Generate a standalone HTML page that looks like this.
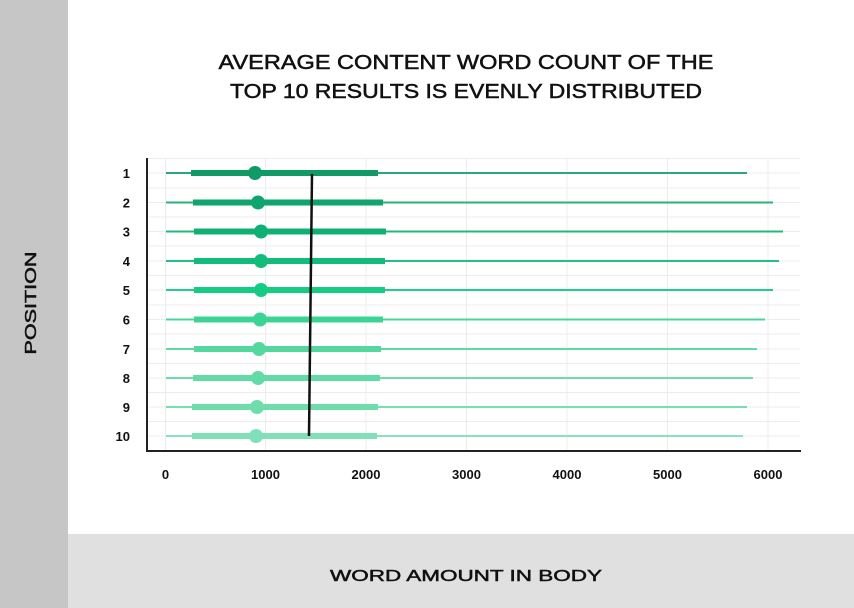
<!DOCTYPE html>
<html><head><meta charset="utf-8"><style>
html,body{margin:0;padding:0;background:#fff}
svg{display:block}
text{font-family:"Liberation Sans",sans-serif}
</style></head><body>
<svg width="854" height="608" viewBox="0 0 854 608" xmlns="http://www.w3.org/2000/svg">
<rect x="0" y="0" width="854" height="608" fill="#fff"/>
<rect x="0" y="0" width="68" height="608" fill="#c6c6c6"/>
<rect x="68" y="534" width="786" height="74" fill="#e0e0e0"/>
<g stroke="#111" stroke-width="0.5" fill="#111">
<text x="466" y="69" font-size="20" text-anchor="middle" textLength="495" lengthAdjust="spacingAndGlyphs">AVERAGE CONTENT WORD COUNT OF THE</text>
<text x="466" y="98" font-size="20" text-anchor="middle" textLength="472" lengthAdjust="spacingAndGlyphs">TOP 10 RESULTS IS EVENLY DISTRIBUTED</text>
<text x="466" y="581" font-size="16" text-anchor="middle" textLength="272" lengthAdjust="spacingAndGlyphs">WORD AMOUNT IN BODY</text>
<text transform="translate(36,303) rotate(-90)" font-size="16" text-anchor="middle" textLength="103" lengthAdjust="spacingAndGlyphs">POSITION</text>
</g>
<g stroke="#ececec" stroke-width="1">
<line x1="147" y1="158.5" x2="800" y2="158.5"/>
<line x1="147" y1="173" x2="800" y2="173"/><line x1="147" y1="188" x2="800" y2="188"/>
<line x1="147" y1="202.5" x2="800" y2="202.5"/><line x1="147" y1="217" x2="800" y2="217"/>
<line x1="147" y1="231.5" x2="800" y2="231.5"/><line x1="147" y1="246" x2="800" y2="246"/>
<line x1="147" y1="261" x2="800" y2="261"/><line x1="147" y1="275.5" x2="800" y2="275.5"/>
<line x1="147" y1="290" x2="800" y2="290"/><line x1="147" y1="305" x2="800" y2="305"/>
<line x1="147" y1="319.5" x2="800" y2="319.5"/><line x1="147" y1="334" x2="800" y2="334"/>
<line x1="147" y1="349" x2="800" y2="349"/><line x1="147" y1="363.5" x2="800" y2="363.5"/>
<line x1="147" y1="378" x2="800" y2="378"/><line x1="147" y1="392.5" x2="800" y2="392.5"/>
<line x1="147" y1="407" x2="800" y2="407"/><line x1="147" y1="421.5" x2="800" y2="421.5"/>
<line x1="147" y1="436" x2="800" y2="436"/>
<line x1="165.5" y1="158" x2="165.5" y2="450"/><line x1="265.5" y1="158" x2="265.5" y2="450"/>
<line x1="366" y1="158" x2="366" y2="450"/><line x1="466.5" y1="158" x2="466.5" y2="450"/>
<line x1="567" y1="158" x2="567" y2="450"/><line x1="667.5" y1="158" x2="667.5" y2="450"/>
<line x1="768" y1="158" x2="768" y2="450"/>
</g>
<g stroke-linecap="butt">
<g><line x1="166" y1="173" x2="747" y2="173" stroke="#2aa877" stroke-width="2"/><line x1="191" y1="173" x2="378" y2="173" stroke="#0f9a66" stroke-width="6"/><circle cx="255" cy="173" r="7" fill="#0f9a66"/></g>
<g><line x1="166" y1="202.5" x2="773" y2="202.5" stroke="#2ab27c" stroke-width="2"/><line x1="193" y1="202.5" x2="383" y2="202.5" stroke="#0ea56e" stroke-width="6"/><circle cx="258" cy="202.5" r="7" fill="#0ea56e"/></g>
<g><line x1="166" y1="231.5" x2="783" y2="231.5" stroke="#22b87d" stroke-width="2"/><line x1="194" y1="231.5" x2="386" y2="231.5" stroke="#10b074" stroke-width="6"/><circle cx="261" cy="231.5" r="7" fill="#10b074"/></g>
<g><line x1="166" y1="261" x2="779" y2="261" stroke="#1fc282" stroke-width="2"/><line x1="194" y1="261" x2="385" y2="261" stroke="#12bd7c" stroke-width="6"/><circle cx="261" cy="261" r="7" fill="#12bd7c"/></g>
<g><line x1="166" y1="290" x2="773" y2="290" stroke="#1dcf88" stroke-width="2"/><line x1="194" y1="290" x2="385" y2="290" stroke="#14cc84" stroke-width="6"/><circle cx="261" cy="290" r="7" fill="#14cc84"/></g>
<g><line x1="166" y1="319.5" x2="765" y2="319.5" stroke="#4ad69a" stroke-width="2"/><line x1="194" y1="319.5" x2="383" y2="319.5" stroke="#3cd494" stroke-width="6"/><circle cx="260" cy="319.5" r="7" fill="#3cd494"/></g>
<g><line x1="166" y1="349" x2="757" y2="349" stroke="#60daa5" stroke-width="2"/><line x1="194" y1="349" x2="381" y2="349" stroke="#55d8a0" stroke-width="6"/><circle cx="259" cy="349" r="7" fill="#55d8a0"/></g>
<g><line x1="166" y1="378" x2="753" y2="378" stroke="#6cdcaa" stroke-width="2"/><line x1="193" y1="378" x2="380" y2="378" stroke="#62dba6" stroke-width="6"/><circle cx="258" cy="378" r="7" fill="#62dba6"/></g>
<g><line x1="166" y1="407" x2="747" y2="407" stroke="#78dfb0" stroke-width="2"/><line x1="192" y1="407" x2="378" y2="407" stroke="#6fddab" stroke-width="6"/><circle cx="257" cy="407" r="7" fill="#6fddab"/></g>
<g><line x1="166" y1="436" x2="743" y2="436" stroke="#88e2bc" stroke-width="2"/><line x1="192" y1="436" x2="377" y2="436" stroke="#80e0b8" stroke-width="6"/><circle cx="256" cy="436" r="7" fill="#80e0b8"/></g>
</g>
<line x1="312" y1="174" x2="309" y2="436" stroke="#111" stroke-width="2.5"/>
<line x1="147" y1="158" x2="147" y2="452" stroke="#222" stroke-width="2"/>
<line x1="146" y1="451" x2="801" y2="451" stroke="#222" stroke-width="2"/>
<g font-size="13" font-weight="bold" fill="#111" text-anchor="end">
<text x="130" y="178">1</text><text x="130" y="207.5">2</text><text x="130" y="236.5">3</text><text x="130" y="266">4</text><text x="130" y="295">5</text><text x="130" y="324.5">6</text><text x="130" y="354">7</text><text x="130" y="383">8</text><text x="130" y="412">9</text><text x="130" y="441">10</text>
</g>
<g font-size="13" font-weight="bold" fill="#111" text-anchor="middle">
<text x="165.5" y="479">0</text><text x="265.5" y="479">1000</text><text x="366" y="479">2000</text><text x="466.5" y="479">3000</text><text x="567" y="479">4000</text><text x="667.5" y="479">5000</text><text x="768" y="479">6000</text>
</g>
</svg>
</body></html>
